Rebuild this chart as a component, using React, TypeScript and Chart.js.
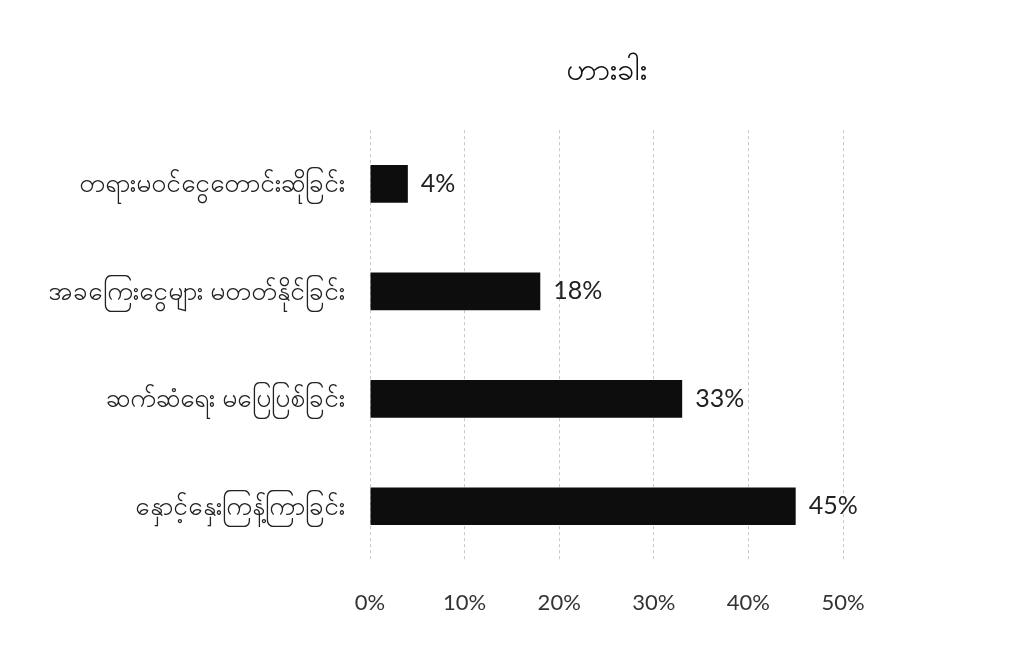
import React, { useEffect, useRef } from "react";
import { Chart, registerables } from "chart.js";

Chart.register(...registerables);

const titleText = "ဟားခါး";
const categories = [
  "တရားမဝင်ငွေတောင်းဆိုခြင်း",
  "အခကြေးငွေများ မတတ်နိုင်ခြင်း",
  "ဆက်ဆံရေး မပြေပြစ်ခြင်း",
  "နှောင့်နှေးကြန့်ကြာခြင်း",
];
const values = [4, 18, 33, 45];
const axisMin = 0;
const axisMax = 50;
const axisStep = 10;

const FONT = "Lato, 'Noto Sans', 'DejaVu Sans', sans-serif";

const valueLabelPlugin = {
  id: "valueLabels",
  afterDatasetsDraw(chart: any) {
    const ctx = chart.ctx;
    const meta = chart.getDatasetMeta(0);
    ctx.save();
    ctx.font = `25px ${FONT}`;
    ctx.fillStyle = "#222222";
    ctx.textAlign = "left";
    ctx.textBaseline = "middle";
    meta.data.forEach((bar: any, i: number) => {
      ctx.fillText(`${values[i]}%`, bar.x + 13, bar.y);
    });
    ctx.restore();
  },
};

export default function App() {
  const canvasRef = useRef<HTMLCanvasElement | null>(null);

  useEffect(() => {
    if (!canvasRef.current) return;
    const chart = new Chart(canvasRef.current, {
      type: "bar",
      data: {
        labels: categories,
        datasets: [
          {
            data: values,
            backgroundColor: "#0d0d0d",
            borderWidth: 0,
            barPercentage: 0.35,
            categoryPercentage: 1,
          },
        ],
      },
      options: {
        indexAxis: "y",
        animation: false,
        responsive: false,
        maintainAspectRatio: false,
        layout: { padding: { left: 0, right: 177, top: 0, bottom: 0 } },
        plugins: {
          legend: { display: false },
          tooltip: { enabled: false },
          title: {
            display: true,
            text: titleText,
            fullSize: false,
            color: "#111111",
            font: { family: FONT, size: 31, weight: "normal" },
            padding: { top: 43, bottom: 42 },
          },
        },
        scales: {
          x: {
            min: axisMin,
            max: axisMax,
            border: { display: false, dash: [3, 3] },
            grid: {
              color: "#c8c8c8",
              lineWidth: 1,
              drawTicks: false,
            },
            ticks: {
              stepSize: axisStep,
              padding: 30,
              color: "#333333",
              font: { family: FONT, size: 22 },
              callback: (v: any) => `${v}%`,
            },
            afterFit: (scale: any) => {
              scale.height = 77;
            },
          },
          y: {
            border: { display: false },
            grid: { display: false, drawTicks: false },
            ticks: {
              padding: 25,
              color: "#222222",
              font: { family: FONT, size: 26 },
            },
            afterFit: (scale: any) => {
              scale.width = 362;
            },
          },
        },
      },
      plugins: [valueLabelPlugin],
    });
    return () => chart.destroy();
  }, []);

  return (
    <div style={{ width: 1012, height: 629, background: "#ffffff" }}>
      <canvas ref={canvasRef} width={1012} height={629} style={{ display: "block" }} />
    </div>
  );
}
